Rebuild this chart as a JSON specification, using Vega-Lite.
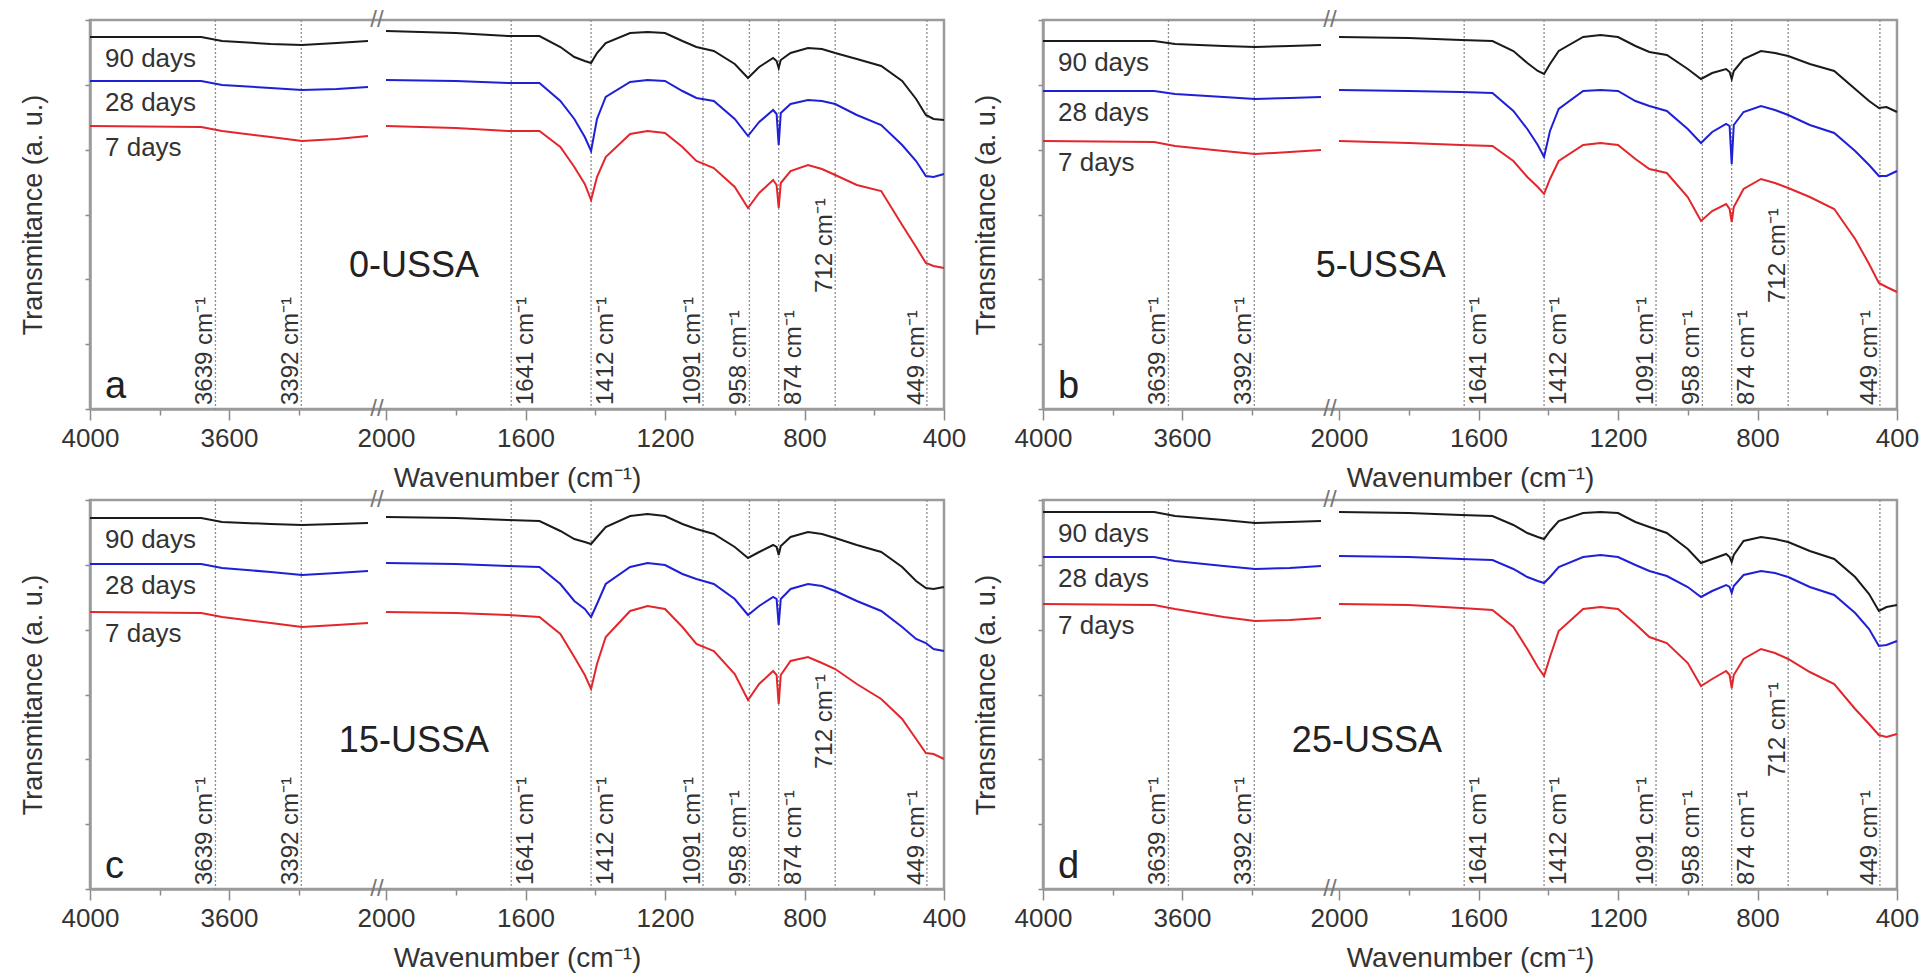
{
"$schema": "https://vega.github.io/schema/vega-lite/v6.json",
"padding": {"left": 18, "top": 6, "right": 5, "bottom": 5},
"background": "white",
"data": {"values": [
{"p":"a","s":"90 days","g":"L","x":4000,"y":372},{"p":"a","s":"90 days","g":"L","x":3680,"y":372},{"p":"a","s":"90 days","g":"L","x":3620,"y":368},{"p":"a","s":"90 days","g":"L","x":3480,"y":365},{"p":"a","s":"90 days","g":"L","x":3390,"y":364},{"p":"a","s":"90 days","g":"L","x":3290,"y":366},{"p":"a","s":"90 days","g":"L","x":3200,"y":368},
{"p":"a","s":"90 days","g":"R","x":2000,"y":378},{"p":"a","s":"90 days","g":"R","x":1800,"y":376},{"p":"a","s":"90 days","g":"R","x":1650,"y":373},{"p":"a","s":"90 days","g":"R","x":1560,"y":373},{"p":"a","s":"90 days","g":"R","x":1500,"y":362},{"p":"a","s":"90 days","g":"R","x":1460,"y":352},{"p":"a","s":"90 days","g":"R","x":1430,"y":348},{"p":"a","s":"90 days","g":"R","x":1412,"y":346},{"p":"a","s":"90 days","g":"R","x":1395,"y":356},{"p":"a","s":"90 days","g":"R","x":1370,"y":366},{"p":"a","s":"90 days","g":"R","x":1300,"y":376},{"p":"a","s":"90 days","g":"R","x":1250,"y":377},{"p":"a","s":"90 days","g":"R","x":1200,"y":376},{"p":"a","s":"90 days","g":"R","x":1150,"y":368},{"p":"a","s":"90 days","g":"R","x":1110,"y":362},{"p":"a","s":"90 days","g":"R","x":1060,"y":358},{"p":"a","s":"90 days","g":"R","x":1000,"y":345},{"p":"a","s":"90 days","g":"R","x":962,"y":331},{"p":"a","s":"90 days","g":"R","x":930,"y":342},{"p":"a","s":"90 days","g":"R","x":890,"y":351},{"p":"a","s":"90 days","g":"R","x":880,"y":348},{"p":"a","s":"90 days","g":"R","x":874,"y":341},{"p":"a","s":"90 days","g":"R","x":868,"y":349},{"p":"a","s":"90 days","g":"R","x":840,"y":356},{"p":"a","s":"90 days","g":"R","x":790,"y":361},{"p":"a","s":"90 days","g":"R","x":750,"y":360},{"p":"a","s":"90 days","g":"R","x":712,"y":356},{"p":"a","s":"90 days","g":"R","x":650,"y":350},{"p":"a","s":"90 days","g":"R","x":580,"y":343},{"p":"a","s":"90 days","g":"R","x":520,"y":328},{"p":"a","s":"90 days","g":"R","x":480,"y":310},{"p":"a","s":"90 days","g":"R","x":452,"y":294},{"p":"a","s":"90 days","g":"R","x":430,"y":290},{"p":"a","s":"90 days","g":"R","x":400,"y":289},
{"p":"a","s":"28 days","g":"L","x":4000,"y":328},{"p":"a","s":"28 days","g":"L","x":3680,"y":328},{"p":"a","s":"28 days","g":"L","x":3620,"y":324},{"p":"a","s":"28 days","g":"L","x":3480,"y":321},{"p":"a","s":"28 days","g":"L","x":3390,"y":319},{"p":"a","s":"28 days","g":"L","x":3290,"y":320},{"p":"a","s":"28 days","g":"L","x":3200,"y":322},
{"p":"a","s":"28 days","g":"R","x":2000,"y":329},{"p":"a","s":"28 days","g":"R","x":1800,"y":328},{"p":"a","s":"28 days","g":"R","x":1650,"y":326},{"p":"a","s":"28 days","g":"R","x":1560,"y":326},{"p":"a","s":"28 days","g":"R","x":1500,"y":308},{"p":"a","s":"28 days","g":"R","x":1460,"y":290},{"p":"a","s":"28 days","g":"R","x":1430,"y":272},{"p":"a","s":"28 days","g":"R","x":1412,"y":258},{"p":"a","s":"28 days","g":"R","x":1395,"y":290},{"p":"a","s":"28 days","g":"R","x":1370,"y":312},{"p":"a","s":"28 days","g":"R","x":1300,"y":327},{"p":"a","s":"28 days","g":"R","x":1250,"y":329},{"p":"a","s":"28 days","g":"R","x":1200,"y":328},{"p":"a","s":"28 days","g":"R","x":1150,"y":318},{"p":"a","s":"28 days","g":"R","x":1110,"y":311},{"p":"a","s":"28 days","g":"R","x":1060,"y":308},{"p":"a","s":"28 days","g":"R","x":1000,"y":290},{"p":"a","s":"28 days","g":"R","x":962,"y":273},{"p":"a","s":"28 days","g":"R","x":930,"y":287},{"p":"a","s":"28 days","g":"R","x":890,"y":299},{"p":"a","s":"28 days","g":"R","x":880,"y":295},{"p":"a","s":"28 days","g":"R","x":874,"y":264},{"p":"a","s":"28 days","g":"R","x":868,"y":296},{"p":"a","s":"28 days","g":"R","x":840,"y":305},{"p":"a","s":"28 days","g":"R","x":790,"y":309},{"p":"a","s":"28 days","g":"R","x":750,"y":308},{"p":"a","s":"28 days","g":"R","x":712,"y":305},{"p":"a","s":"28 days","g":"R","x":650,"y":294},{"p":"a","s":"28 days","g":"R","x":580,"y":284},{"p":"a","s":"28 days","g":"R","x":520,"y":264},{"p":"a","s":"28 days","g":"R","x":480,"y":248},{"p":"a","s":"28 days","g":"R","x":452,"y":233},{"p":"a","s":"28 days","g":"R","x":430,"y":232},{"p":"a","s":"28 days","g":"R","x":400,"y":235},
{"p":"a","s":"7 days","g":"L","x":4000,"y":283},{"p":"a","s":"7 days","g":"L","x":3680,"y":282},{"p":"a","s":"7 days","g":"L","x":3620,"y":278},{"p":"a","s":"7 days","g":"L","x":3480,"y":272},{"p":"a","s":"7 days","g":"L","x":3390,"y":268},{"p":"a","s":"7 days","g":"L","x":3290,"y":270},{"p":"a","s":"7 days","g":"L","x":3200,"y":273},
{"p":"a","s":"7 days","g":"R","x":2000,"y":283},{"p":"a","s":"7 days","g":"R","x":1800,"y":281},{"p":"a","s":"7 days","g":"R","x":1650,"y":278},{"p":"a","s":"7 days","g":"R","x":1560,"y":278},{"p":"a","s":"7 days","g":"R","x":1500,"y":262},{"p":"a","s":"7 days","g":"R","x":1460,"y":242},{"p":"a","s":"7 days","g":"R","x":1430,"y":225},{"p":"a","s":"7 days","g":"R","x":1412,"y":209},{"p":"a","s":"7 days","g":"R","x":1395,"y":232},{"p":"a","s":"7 days","g":"R","x":1370,"y":252},{"p":"a","s":"7 days","g":"R","x":1300,"y":275},{"p":"a","s":"7 days","g":"R","x":1250,"y":278},{"p":"a","s":"7 days","g":"R","x":1200,"y":276},{"p":"a","s":"7 days","g":"R","x":1150,"y":262},{"p":"a","s":"7 days","g":"R","x":1110,"y":248},{"p":"a","s":"7 days","g":"R","x":1060,"y":241},{"p":"a","s":"7 days","g":"R","x":1000,"y":222},{"p":"a","s":"7 days","g":"R","x":962,"y":201},{"p":"a","s":"7 days","g":"R","x":930,"y":216},{"p":"a","s":"7 days","g":"R","x":890,"y":229},{"p":"a","s":"7 days","g":"R","x":880,"y":224},{"p":"a","s":"7 days","g":"R","x":874,"y":201},{"p":"a","s":"7 days","g":"R","x":868,"y":226},{"p":"a","s":"7 days","g":"R","x":840,"y":238},{"p":"a","s":"7 days","g":"R","x":790,"y":244},{"p":"a","s":"7 days","g":"R","x":750,"y":240},{"p":"a","s":"7 days","g":"R","x":712,"y":234},{"p":"a","s":"7 days","g":"R","x":650,"y":224},{"p":"a","s":"7 days","g":"R","x":580,"y":218},{"p":"a","s":"7 days","g":"R","x":520,"y":184},{"p":"a","s":"7 days","g":"R","x":480,"y":162},{"p":"a","s":"7 days","g":"R","x":452,"y":146},{"p":"a","s":"7 days","g":"R","x":430,"y":143},{"p":"a","s":"7 days","g":"R","x":400,"y":141},

{"p":"b","s":"90 days","g":"L","x":4000,"y":368},{"p":"b","s":"90 days","g":"L","x":3680,"y":368},{"p":"b","s":"90 days","g":"L","x":3620,"y":365},{"p":"b","s":"90 days","g":"L","x":3480,"y":363},{"p":"b","s":"90 days","g":"L","x":3390,"y":362},{"p":"b","s":"90 days","g":"L","x":3290,"y":363},{"p":"b","s":"90 days","g":"L","x":3200,"y":364},
{"p":"b","s":"90 days","g":"R","x":2000,"y":372},{"p":"b","s":"90 days","g":"R","x":1800,"y":371},{"p":"b","s":"90 days","g":"R","x":1650,"y":369},{"p":"b","s":"90 days","g":"R","x":1560,"y":368},{"p":"b","s":"90 days","g":"R","x":1500,"y":358},{"p":"b","s":"90 days","g":"R","x":1460,"y":346},{"p":"b","s":"90 days","g":"R","x":1430,"y":338},{"p":"b","s":"90 days","g":"R","x":1412,"y":335},{"p":"b","s":"90 days","g":"R","x":1395,"y":345},{"p":"b","s":"90 days","g":"R","x":1370,"y":358},{"p":"b","s":"90 days","g":"R","x":1300,"y":372},{"p":"b","s":"90 days","g":"R","x":1250,"y":374},{"p":"b","s":"90 days","g":"R","x":1200,"y":372},{"p":"b","s":"90 days","g":"R","x":1150,"y":363},{"p":"b","s":"90 days","g":"R","x":1110,"y":357},{"p":"b","s":"90 days","g":"R","x":1060,"y":354},{"p":"b","s":"90 days","g":"R","x":1000,"y":340},{"p":"b","s":"90 days","g":"R","x":962,"y":330},{"p":"b","s":"90 days","g":"R","x":930,"y":336},{"p":"b","s":"90 days","g":"R","x":890,"y":340},{"p":"b","s":"90 days","g":"R","x":880,"y":337},{"p":"b","s":"90 days","g":"R","x":874,"y":330},{"p":"b","s":"90 days","g":"R","x":868,"y":338},{"p":"b","s":"90 days","g":"R","x":840,"y":350},{"p":"b","s":"90 days","g":"R","x":790,"y":358},{"p":"b","s":"90 days","g":"R","x":750,"y":356},{"p":"b","s":"90 days","g":"R","x":712,"y":353},{"p":"b","s":"90 days","g":"R","x":650,"y":345},{"p":"b","s":"90 days","g":"R","x":580,"y":338},{"p":"b","s":"90 days","g":"R","x":520,"y":320},{"p":"b","s":"90 days","g":"R","x":480,"y":308},{"p":"b","s":"90 days","g":"R","x":452,"y":301},{"p":"b","s":"90 days","g":"R","x":430,"y":302},{"p":"b","s":"90 days","g":"R","x":400,"y":297},
{"p":"b","s":"28 days","g":"L","x":4000,"y":318},{"p":"b","s":"28 days","g":"L","x":3680,"y":318},{"p":"b","s":"28 days","g":"L","x":3620,"y":315},{"p":"b","s":"28 days","g":"L","x":3480,"y":312},{"p":"b","s":"28 days","g":"L","x":3390,"y":310},{"p":"b","s":"28 days","g":"L","x":3290,"y":311},{"p":"b","s":"28 days","g":"L","x":3200,"y":312},
{"p":"b","s":"28 days","g":"R","x":2000,"y":319},{"p":"b","s":"28 days","g":"R","x":1800,"y":318},{"p":"b","s":"28 days","g":"R","x":1650,"y":317},{"p":"b","s":"28 days","g":"R","x":1560,"y":316},{"p":"b","s":"28 days","g":"R","x":1500,"y":298},{"p":"b","s":"28 days","g":"R","x":1460,"y":280},{"p":"b","s":"28 days","g":"R","x":1430,"y":264},{"p":"b","s":"28 days","g":"R","x":1412,"y":252},{"p":"b","s":"28 days","g":"R","x":1395,"y":278},{"p":"b","s":"28 days","g":"R","x":1370,"y":300},{"p":"b","s":"28 days","g":"R","x":1300,"y":318},{"p":"b","s":"28 days","g":"R","x":1250,"y":319},{"p":"b","s":"28 days","g":"R","x":1200,"y":318},{"p":"b","s":"28 days","g":"R","x":1150,"y":308},{"p":"b","s":"28 days","g":"R","x":1110,"y":303},{"p":"b","s":"28 days","g":"R","x":1060,"y":298},{"p":"b","s":"28 days","g":"R","x":1000,"y":280},{"p":"b","s":"28 days","g":"R","x":962,"y":266},{"p":"b","s":"28 days","g":"R","x":930,"y":277},{"p":"b","s":"28 days","g":"R","x":890,"y":285},{"p":"b","s":"28 days","g":"R","x":880,"y":283},{"p":"b","s":"28 days","g":"R","x":874,"y":245},{"p":"b","s":"28 days","g":"R","x":868,"y":284},{"p":"b","s":"28 days","g":"R","x":840,"y":297},{"p":"b","s":"28 days","g":"R","x":790,"y":303},{"p":"b","s":"28 days","g":"R","x":750,"y":299},{"p":"b","s":"28 days","g":"R","x":712,"y":294},{"p":"b","s":"28 days","g":"R","x":650,"y":284},{"p":"b","s":"28 days","g":"R","x":580,"y":276},{"p":"b","s":"28 days","g":"R","x":520,"y":258},{"p":"b","s":"28 days","g":"R","x":480,"y":244},{"p":"b","s":"28 days","g":"R","x":452,"y":233},{"p":"b","s":"28 days","g":"R","x":430,"y":233},{"p":"b","s":"28 days","g":"R","x":400,"y":238},
{"p":"b","s":"7 days","g":"L","x":4000,"y":268},{"p":"b","s":"7 days","g":"L","x":3680,"y":267},{"p":"b","s":"7 days","g":"L","x":3620,"y":263},{"p":"b","s":"7 days","g":"L","x":3480,"y":258},{"p":"b","s":"7 days","g":"L","x":3390,"y":255},{"p":"b","s":"7 days","g":"L","x":3290,"y":257},{"p":"b","s":"7 days","g":"L","x":3200,"y":259},
{"p":"b","s":"7 days","g":"R","x":2000,"y":268},{"p":"b","s":"7 days","g":"R","x":1800,"y":266},{"p":"b","s":"7 days","g":"R","x":1650,"y":264},{"p":"b","s":"7 days","g":"R","x":1560,"y":263},{"p":"b","s":"7 days","g":"R","x":1500,"y":248},{"p":"b","s":"7 days","g":"R","x":1460,"y":232},{"p":"b","s":"7 days","g":"R","x":1430,"y":222},{"p":"b","s":"7 days","g":"R","x":1412,"y":215},{"p":"b","s":"7 days","g":"R","x":1395,"y":230},{"p":"b","s":"7 days","g":"R","x":1370,"y":248},{"p":"b","s":"7 days","g":"R","x":1300,"y":264},{"p":"b","s":"7 days","g":"R","x":1250,"y":266},{"p":"b","s":"7 days","g":"R","x":1200,"y":264},{"p":"b","s":"7 days","g":"R","x":1150,"y":250},{"p":"b","s":"7 days","g":"R","x":1110,"y":240},{"p":"b","s":"7 days","g":"R","x":1060,"y":236},{"p":"b","s":"7 days","g":"R","x":1000,"y":212},{"p":"b","s":"7 days","g":"R","x":962,"y":188},{"p":"b","s":"7 days","g":"R","x":930,"y":198},{"p":"b","s":"7 days","g":"R","x":890,"y":205},{"p":"b","s":"7 days","g":"R","x":880,"y":200},{"p":"b","s":"7 days","g":"R","x":874,"y":187},{"p":"b","s":"7 days","g":"R","x":868,"y":202},{"p":"b","s":"7 days","g":"R","x":840,"y":220},{"p":"b","s":"7 days","g":"R","x":790,"y":230},{"p":"b","s":"7 days","g":"R","x":750,"y":226},{"p":"b","s":"7 days","g":"R","x":712,"y":221},{"p":"b","s":"7 days","g":"R","x":650,"y":212},{"p":"b","s":"7 days","g":"R","x":580,"y":200},{"p":"b","s":"7 days","g":"R","x":520,"y":170},{"p":"b","s":"7 days","g":"R","x":480,"y":145},{"p":"b","s":"7 days","g":"R","x":452,"y":126},{"p":"b","s":"7 days","g":"R","x":430,"y":122},{"p":"b","s":"7 days","g":"R","x":400,"y":117},

{"p":"c","s":"90 days","g":"L","x":4000,"y":371},{"p":"c","s":"90 days","g":"L","x":3680,"y":371},{"p":"c","s":"90 days","g":"L","x":3620,"y":367},{"p":"c","s":"90 days","g":"L","x":3480,"y":365},{"p":"c","s":"90 days","g":"L","x":3390,"y":364},{"p":"c","s":"90 days","g":"L","x":3290,"y":365},{"p":"c","s":"90 days","g":"L","x":3200,"y":366},
{"p":"c","s":"90 days","g":"R","x":2000,"y":372},{"p":"c","s":"90 days","g":"R","x":1800,"y":371},{"p":"c","s":"90 days","g":"R","x":1650,"y":369},{"p":"c","s":"90 days","g":"R","x":1560,"y":368},{"p":"c","s":"90 days","g":"R","x":1500,"y":358},{"p":"c","s":"90 days","g":"R","x":1460,"y":350},{"p":"c","s":"90 days","g":"R","x":1430,"y":347},{"p":"c","s":"90 days","g":"R","x":1412,"y":345},{"p":"c","s":"90 days","g":"R","x":1395,"y":352},{"p":"c","s":"90 days","g":"R","x":1370,"y":362},{"p":"c","s":"90 days","g":"R","x":1300,"y":373},{"p":"c","s":"90 days","g":"R","x":1250,"y":375},{"p":"c","s":"90 days","g":"R","x":1200,"y":373},{"p":"c","s":"90 days","g":"R","x":1150,"y":365},{"p":"c","s":"90 days","g":"R","x":1110,"y":360},{"p":"c","s":"90 days","g":"R","x":1060,"y":355},{"p":"c","s":"90 days","g":"R","x":1000,"y":342},{"p":"c","s":"90 days","g":"R","x":962,"y":331},{"p":"c","s":"90 days","g":"R","x":930,"y":337},{"p":"c","s":"90 days","g":"R","x":890,"y":344},{"p":"c","s":"90 days","g":"R","x":880,"y":342},{"p":"c","s":"90 days","g":"R","x":874,"y":334},{"p":"c","s":"90 days","g":"R","x":868,"y":343},{"p":"c","s":"90 days","g":"R","x":840,"y":352},{"p":"c","s":"90 days","g":"R","x":790,"y":357},{"p":"c","s":"90 days","g":"R","x":750,"y":355},{"p":"c","s":"90 days","g":"R","x":712,"y":351},{"p":"c","s":"90 days","g":"R","x":650,"y":344},{"p":"c","s":"90 days","g":"R","x":580,"y":337},{"p":"c","s":"90 days","g":"R","x":520,"y":322},{"p":"c","s":"90 days","g":"R","x":480,"y":308},{"p":"c","s":"90 days","g":"R","x":452,"y":301},{"p":"c","s":"90 days","g":"R","x":430,"y":300},{"p":"c","s":"90 days","g":"R","x":400,"y":302},
{"p":"c","s":"28 days","g":"L","x":4000,"y":325},{"p":"c","s":"28 days","g":"L","x":3680,"y":325},{"p":"c","s":"28 days","g":"L","x":3620,"y":321},{"p":"c","s":"28 days","g":"L","x":3480,"y":317},{"p":"c","s":"28 days","g":"L","x":3390,"y":314},{"p":"c","s":"28 days","g":"L","x":3290,"y":316},{"p":"c","s":"28 days","g":"L","x":3200,"y":318},
{"p":"c","s":"28 days","g":"R","x":2000,"y":326},{"p":"c","s":"28 days","g":"R","x":1800,"y":325},{"p":"c","s":"28 days","g":"R","x":1650,"y":323},{"p":"c","s":"28 days","g":"R","x":1560,"y":322},{"p":"c","s":"28 days","g":"R","x":1500,"y":305},{"p":"c","s":"28 days","g":"R","x":1460,"y":288},{"p":"c","s":"28 days","g":"R","x":1430,"y":280},{"p":"c","s":"28 days","g":"R","x":1412,"y":272},{"p":"c","s":"28 days","g":"R","x":1395,"y":285},{"p":"c","s":"28 days","g":"R","x":1370,"y":305},{"p":"c","s":"28 days","g":"R","x":1300,"y":322},{"p":"c","s":"28 days","g":"R","x":1250,"y":326},{"p":"c","s":"28 days","g":"R","x":1200,"y":324},{"p":"c","s":"28 days","g":"R","x":1150,"y":315},{"p":"c","s":"28 days","g":"R","x":1110,"y":310},{"p":"c","s":"28 days","g":"R","x":1060,"y":305},{"p":"c","s":"28 days","g":"R","x":1000,"y":290},{"p":"c","s":"28 days","g":"R","x":962,"y":274},{"p":"c","s":"28 days","g":"R","x":930,"y":283},{"p":"c","s":"28 days","g":"R","x":890,"y":292},{"p":"c","s":"28 days","g":"R","x":880,"y":290},{"p":"c","s":"28 days","g":"R","x":874,"y":264},{"p":"c","s":"28 days","g":"R","x":868,"y":290},{"p":"c","s":"28 days","g":"R","x":840,"y":300},{"p":"c","s":"28 days","g":"R","x":790,"y":305},{"p":"c","s":"28 days","g":"R","x":750,"y":303},{"p":"c","s":"28 days","g":"R","x":712,"y":298},{"p":"c","s":"28 days","g":"R","x":650,"y":288},{"p":"c","s":"28 days","g":"R","x":580,"y":278},{"p":"c","s":"28 days","g":"R","x":520,"y":262},{"p":"c","s":"28 days","g":"R","x":480,"y":250},{"p":"c","s":"28 days","g":"R","x":452,"y":246},{"p":"c","s":"28 days","g":"R","x":430,"y":240},{"p":"c","s":"28 days","g":"R","x":400,"y":238},
{"p":"c","s":"7 days","g":"L","x":4000,"y":277},{"p":"c","s":"7 days","g":"L","x":3680,"y":276},{"p":"c","s":"7 days","g":"L","x":3620,"y":272},{"p":"c","s":"7 days","g":"L","x":3480,"y":266},{"p":"c","s":"7 days","g":"L","x":3390,"y":262},{"p":"c","s":"7 days","g":"L","x":3290,"y":264},{"p":"c","s":"7 days","g":"L","x":3200,"y":266},
{"p":"c","s":"7 days","g":"R","x":2000,"y":277},{"p":"c","s":"7 days","g":"R","x":1800,"y":276},{"p":"c","s":"7 days","g":"R","x":1650,"y":274},{"p":"c","s":"7 days","g":"R","x":1560,"y":272},{"p":"c","s":"7 days","g":"R","x":1500,"y":255},{"p":"c","s":"7 days","g":"R","x":1460,"y":232},{"p":"c","s":"7 days","g":"R","x":1430,"y":214},{"p":"c","s":"7 days","g":"R","x":1412,"y":200},{"p":"c","s":"7 days","g":"R","x":1395,"y":225},{"p":"c","s":"7 days","g":"R","x":1370,"y":252},{"p":"c","s":"7 days","g":"R","x":1300,"y":278},{"p":"c","s":"7 days","g":"R","x":1250,"y":283},{"p":"c","s":"7 days","g":"R","x":1200,"y":280},{"p":"c","s":"7 days","g":"R","x":1150,"y":262},{"p":"c","s":"7 days","g":"R","x":1110,"y":245},{"p":"c","s":"7 days","g":"R","x":1060,"y":238},{"p":"c","s":"7 days","g":"R","x":1000,"y":215},{"p":"c","s":"7 days","g":"R","x":962,"y":189},{"p":"c","s":"7 days","g":"R","x":930,"y":205},{"p":"c","s":"7 days","g":"R","x":890,"y":218},{"p":"c","s":"7 days","g":"R","x":880,"y":214},{"p":"c","s":"7 days","g":"R","x":874,"y":185},{"p":"c","s":"7 days","g":"R","x":868,"y":214},{"p":"c","s":"7 days","g":"R","x":840,"y":228},{"p":"c","s":"7 days","g":"R","x":790,"y":232},{"p":"c","s":"7 days","g":"R","x":750,"y":226},{"p":"c","s":"7 days","g":"R","x":712,"y":220},{"p":"c","s":"7 days","g":"R","x":650,"y":205},{"p":"c","s":"7 days","g":"R","x":580,"y":190},{"p":"c","s":"7 days","g":"R","x":520,"y":170},{"p":"c","s":"7 days","g":"R","x":480,"y":150},{"p":"c","s":"7 days","g":"R","x":452,"y":136},{"p":"c","s":"7 days","g":"R","x":430,"y":135},{"p":"c","s":"7 days","g":"R","x":400,"y":130},

{"p":"d","s":"90 days","g":"L","x":4000,"y":377},{"p":"d","s":"90 days","g":"L","x":3680,"y":377},{"p":"d","s":"90 days","g":"L","x":3620,"y":373},{"p":"d","s":"90 days","g":"L","x":3480,"y":369},{"p":"d","s":"90 days","g":"L","x":3390,"y":366},{"p":"d","s":"90 days","g":"L","x":3290,"y":367},{"p":"d","s":"90 days","g":"L","x":3200,"y":368},
{"p":"d","s":"90 days","g":"R","x":2000,"y":377},{"p":"d","s":"90 days","g":"R","x":1800,"y":376},{"p":"d","s":"90 days","g":"R","x":1650,"y":374},{"p":"d","s":"90 days","g":"R","x":1560,"y":373},{"p":"d","s":"90 days","g":"R","x":1500,"y":364},{"p":"d","s":"90 days","g":"R","x":1460,"y":356},{"p":"d","s":"90 days","g":"R","x":1430,"y":352},{"p":"d","s":"90 days","g":"R","x":1412,"y":350},{"p":"d","s":"90 days","g":"R","x":1395,"y":358},{"p":"d","s":"90 days","g":"R","x":1370,"y":368},{"p":"d","s":"90 days","g":"R","x":1300,"y":376},{"p":"d","s":"90 days","g":"R","x":1250,"y":377},{"p":"d","s":"90 days","g":"R","x":1200,"y":376},{"p":"d","s":"90 days","g":"R","x":1150,"y":367},{"p":"d","s":"90 days","g":"R","x":1110,"y":362},{"p":"d","s":"90 days","g":"R","x":1060,"y":356},{"p":"d","s":"90 days","g":"R","x":1000,"y":340},{"p":"d","s":"90 days","g":"R","x":962,"y":326},{"p":"d","s":"90 days","g":"R","x":930,"y":330},{"p":"d","s":"90 days","g":"R","x":890,"y":335},{"p":"d","s":"90 days","g":"R","x":880,"y":332},{"p":"d","s":"90 days","g":"R","x":874,"y":327},{"p":"d","s":"90 days","g":"R","x":868,"y":334},{"p":"d","s":"90 days","g":"R","x":840,"y":348},{"p":"d","s":"90 days","g":"R","x":790,"y":352},{"p":"d","s":"90 days","g":"R","x":750,"y":350},{"p":"d","s":"90 days","g":"R","x":712,"y":347},{"p":"d","s":"90 days","g":"R","x":650,"y":338},{"p":"d","s":"90 days","g":"R","x":580,"y":330},{"p":"d","s":"90 days","g":"R","x":520,"y":312},{"p":"d","s":"90 days","g":"R","x":480,"y":295},{"p":"d","s":"90 days","g":"R","x":452,"y":278},{"p":"d","s":"90 days","g":"R","x":430,"y":282},{"p":"d","s":"90 days","g":"R","x":400,"y":284},
{"p":"d","s":"28 days","g":"L","x":4000,"y":332},{"p":"d","s":"28 days","g":"L","x":3680,"y":332},{"p":"d","s":"28 days","g":"L","x":3620,"y":328},{"p":"d","s":"28 days","g":"L","x":3480,"y":323},{"p":"d","s":"28 days","g":"L","x":3390,"y":320},{"p":"d","s":"28 days","g":"L","x":3290,"y":321},{"p":"d","s":"28 days","g":"L","x":3200,"y":323},
{"p":"d","s":"28 days","g":"R","x":2000,"y":333},{"p":"d","s":"28 days","g":"R","x":1800,"y":332},{"p":"d","s":"28 days","g":"R","x":1650,"y":330},{"p":"d","s":"28 days","g":"R","x":1560,"y":329},{"p":"d","s":"28 days","g":"R","x":1500,"y":320},{"p":"d","s":"28 days","g":"R","x":1460,"y":312},{"p":"d","s":"28 days","g":"R","x":1430,"y":308},{"p":"d","s":"28 days","g":"R","x":1412,"y":306},{"p":"d","s":"28 days","g":"R","x":1395,"y":312},{"p":"d","s":"28 days","g":"R","x":1370,"y":322},{"p":"d","s":"28 days","g":"R","x":1300,"y":332},{"p":"d","s":"28 days","g":"R","x":1250,"y":334},{"p":"d","s":"28 days","g":"R","x":1200,"y":332},{"p":"d","s":"28 days","g":"R","x":1150,"y":324},{"p":"d","s":"28 days","g":"R","x":1110,"y":318},{"p":"d","s":"28 days","g":"R","x":1060,"y":313},{"p":"d","s":"28 days","g":"R","x":1000,"y":302},{"p":"d","s":"28 days","g":"R","x":962,"y":292},{"p":"d","s":"28 days","g":"R","x":930,"y":298},{"p":"d","s":"28 days","g":"R","x":890,"y":304},{"p":"d","s":"28 days","g":"R","x":880,"y":302},{"p":"d","s":"28 days","g":"R","x":874,"y":296},{"p":"d","s":"28 days","g":"R","x":868,"y":303},{"p":"d","s":"28 days","g":"R","x":840,"y":314},{"p":"d","s":"28 days","g":"R","x":790,"y":318},{"p":"d","s":"28 days","g":"R","x":750,"y":316},{"p":"d","s":"28 days","g":"R","x":712,"y":312},{"p":"d","s":"28 days","g":"R","x":650,"y":302},{"p":"d","s":"28 days","g":"R","x":580,"y":294},{"p":"d","s":"28 days","g":"R","x":520,"y":276},{"p":"d","s":"28 days","g":"R","x":480,"y":260},{"p":"d","s":"28 days","g":"R","x":452,"y":243},{"p":"d","s":"28 days","g":"R","x":430,"y":244},{"p":"d","s":"28 days","g":"R","x":400,"y":248},
{"p":"d","s":"7 days","g":"L","x":4000,"y":285},{"p":"d","s":"7 days","g":"L","x":3680,"y":284},{"p":"d","s":"7 days","g":"L","x":3620,"y":280},{"p":"d","s":"7 days","g":"L","x":3480,"y":272},{"p":"d","s":"7 days","g":"L","x":3390,"y":268},{"p":"d","s":"7 days","g":"L","x":3290,"y":269},{"p":"d","s":"7 days","g":"L","x":3200,"y":271},
{"p":"d","s":"7 days","g":"R","x":2000,"y":285},{"p":"d","s":"7 days","g":"R","x":1800,"y":284},{"p":"d","s":"7 days","g":"R","x":1650,"y":281},{"p":"d","s":"7 days","g":"R","x":1560,"y":279},{"p":"d","s":"7 days","g":"R","x":1500,"y":262},{"p":"d","s":"7 days","g":"R","x":1460,"y":240},{"p":"d","s":"7 days","g":"R","x":1430,"y":222},{"p":"d","s":"7 days","g":"R","x":1412,"y":213},{"p":"d","s":"7 days","g":"R","x":1395,"y":232},{"p":"d","s":"7 days","g":"R","x":1370,"y":258},{"p":"d","s":"7 days","g":"R","x":1300,"y":280},{"p":"d","s":"7 days","g":"R","x":1250,"y":282},{"p":"d","s":"7 days","g":"R","x":1200,"y":280},{"p":"d","s":"7 days","g":"R","x":1150,"y":265},{"p":"d","s":"7 days","g":"R","x":1110,"y":252},{"p":"d","s":"7 days","g":"R","x":1060,"y":246},{"p":"d","s":"7 days","g":"R","x":1000,"y":226},{"p":"d","s":"7 days","g":"R","x":962,"y":203},{"p":"d","s":"7 days","g":"R","x":930,"y":210},{"p":"d","s":"7 days","g":"R","x":890,"y":218},{"p":"d","s":"7 days","g":"R","x":880,"y":214},{"p":"d","s":"7 days","g":"R","x":874,"y":201},{"p":"d","s":"7 days","g":"R","x":868,"y":214},{"p":"d","s":"7 days","g":"R","x":840,"y":230},{"p":"d","s":"7 days","g":"R","x":790,"y":240},{"p":"d","s":"7 days","g":"R","x":750,"y":236},{"p":"d","s":"7 days","g":"R","x":712,"y":230},{"p":"d","s":"7 days","g":"R","x":650,"y":217},{"p":"d","s":"7 days","g":"R","x":580,"y":205},{"p":"d","s":"7 days","g":"R","x":520,"y":180},{"p":"d","s":"7 days","g":"R","x":480,"y":165},{"p":"d","s":"7 days","g":"R","x":452,"y":154},{"p":"d","s":"7 days","g":"R","x":430,"y":152},{"p":"d","s":"7 days","g":"R","x":400,"y":155},

{"p":"a","x":3639,"lab":"3639 cm⁻¹"},{"p":"a","x":3392,"lab":"3392 cm⁻¹"},{"p":"a","x":1641,"lab":"1641 cm⁻¹"},{"p":"a","x":1412,"lab":"1412 cm⁻¹"},{"p":"a","x":1091,"lab":"1091 cm⁻¹"},{"p":"a","x":958,"lab":"958 cm⁻¹"},{"p":"a","x":874,"lab":"874 cm⁻¹"},{"p":"a","x":712,"lab":"712 cm⁻¹"},{"p":"a","x":449,"lab":"449 cm⁻¹"},
{"p":"b","x":3639,"lab":"3639 cm⁻¹"},{"p":"b","x":3392,"lab":"3392 cm⁻¹"},{"p":"b","x":1641,"lab":"1641 cm⁻¹"},{"p":"b","x":1412,"lab":"1412 cm⁻¹"},{"p":"b","x":1091,"lab":"1091 cm⁻¹"},{"p":"b","x":958,"lab":"958 cm⁻¹"},{"p":"b","x":874,"lab":"874 cm⁻¹"},{"p":"b","x":712,"lab":"712 cm⁻¹"},{"p":"b","x":449,"lab":"449 cm⁻¹"},
{"p":"c","x":3639,"lab":"3639 cm⁻¹"},{"p":"c","x":3392,"lab":"3392 cm⁻¹"},{"p":"c","x":1641,"lab":"1641 cm⁻¹"},{"p":"c","x":1412,"lab":"1412 cm⁻¹"},{"p":"c","x":1091,"lab":"1091 cm⁻¹"},{"p":"c","x":958,"lab":"958 cm⁻¹"},{"p":"c","x":874,"lab":"874 cm⁻¹"},{"p":"c","x":712,"lab":"712 cm⁻¹"},{"p":"c","x":449,"lab":"449 cm⁻¹"},
{"p":"d","x":3639,"lab":"3639 cm⁻¹"},{"p":"d","x":3392,"lab":"3392 cm⁻¹"},{"p":"d","x":1641,"lab":"1641 cm⁻¹"},{"p":"d","x":1412,"lab":"1412 cm⁻¹"},{"p":"d","x":1091,"lab":"1091 cm⁻¹"},{"p":"d","x":958,"lab":"958 cm⁻¹"},{"p":"d","x":874,"lab":"874 cm⁻¹"},{"p":"d","x":712,"lab":"712 cm⁻¹"},{"p":"d","x":449,"lab":"449 cm⁻¹"},
{"p":"a","letter":"a","name":"0-USSA"},{"p":"b","letter":"b","name":"5-USSA"},{"p":"c","letter":"c","name":"15-USSA"},{"p":"d","letter":"d","name":"25-USSA"}
]},
"columns": 2,
"bounds": "flush",
"spacing": {"row": 91, "column": 99},
"concat": [
{"width": 854, "height": 389, "transform": [{"filter": "datum.p == 'a'"}],
 "layer": [
    {"transform": [{"filter": "isValid(datum.lab)"}], "mark": {"type": "rule", "color": "#8c8c8c", "strokeWidth": 1.3, "strokeDash": [2, 2]}, "encoding": {"x": {"field": "x", "type": "quantitative"}}},
    {"transform": [{"filter": "isValid(datum.s)"}], "mark": {"type": "line", "strokeWidth": 2},
     "encoding": {
       "x": {"field": "x", "type": "quantitative", "scale": {"domain": [4000, 3200, 2000, 400], "range": [0, 278, 296, 854], "nice": false, "zero": false},
         "axis": {"title": "Wavenumber (cm⁻¹)", "titleFontSize": 28, "values": [4000, 3800, 3600, 3400, 2000, 1800, 1600, 1400, 1200, 1000, 800, 600, 400], "format": "d", "labelExpr": "datum.value % 400 == 0 ? datum.label : ''", "tickSize": {"condition": {"test": "datum.value % 400 == 0", "value": 11}, "value": 6}, "labelPadding": 5, "titlePadding": 13, "labelOverlap": false, "labelFlush": false}},
       "y": {"field": "y", "type": "quantitative", "scale": {"domain": [0, 389], "nice": false, "zero": false},
         "axis": {"title": "Transmitance (a. u.)", "titleFontSize": 27, "labels": false, "values": [0,16.2,32.4,48.6,64.8,81,97.2,113.4,129.6,145.8,162,178.2,194.4,210.6,226.8,243,259.2,275.4,291.6,307.8,324,340.2,356.4,372.6,388.8], "tickSize": {"condition": {"test": "round(datum.value/16.2) % 2 == 1", "value": 10}, "value": 5}, "titlePadding": 37}},
       "color": {"field": "s", "type": "nominal", "scale": {"domain": ["90 days", "28 days", "7 days"], "range": ["#1a1a1a", "#1f1fd6", "#e3262b"]}, "legend": null},
       "detail": {"field": "g"}}},
    {"transform": [{"filter": "isValid(datum.s) && datum.x == 4000"}], "mark": {"type": "text", "align": "left", "baseline": "middle", "dx": 15, "dy": 22, "fontSize": 26, "color": "#333"},
     "encoding": {"x": {"field": "x", "type": "quantitative"}, "y": {"field": "y", "type": "quantitative"}, "text": {"field": "s"}}},
    {"transform": [{"filter": "isValid(datum.lab) && indexof([1641, 1412, 874, 712], datum.x) < 0"}], "mark": {"type": "text", "angle": 270, "align": "left", "baseline": "alphabetic", "dx": 4, "dy": -3, "fontSize": 24, "color": "#333"},
     "encoding": {"x": {"field": "x", "type": "quantitative"}, "y": {"datum": 0}, "text": {"field": "lab"}}},
    {"transform": [{"filter": "isValid(datum.lab) && indexof([1641, 1412, 874], datum.x) >= 0"}], "mark": {"type": "text", "angle": 270, "align": "left", "baseline": "top", "dx": 4, "dy": 3, "fontSize": 24, "color": "#333"},
     "encoding": {"x": {"field": "x", "type": "quantitative"}, "y": {"datum": 0}, "text": {"field": "lab"}}},
    {"transform": [{"filter": "isValid(datum.lab) && datum.x == 712"}], "mark": {"type": "text", "angle": 270, "align": "left", "baseline": "alphabetic", "dx": 0, "dy": -3, "fontSize": 24, "color": "#333"},
     "encoding": {"x": {"field": "x", "type": "quantitative"}, "y": {"datum": 116}, "text": {"field": "lab"}}},
    {"transform": [{"filter": "isValid(datum.letter)"}], "mark": {"type": "text", "align": "left", "baseline": "alphabetic", "fontSize": 38, "color": "#222"},
     "encoding": {"x": {"datum": 3957}, "y": {"datum": 11}, "text": {"field": "letter"}}},
    {"transform": [{"filter": "isValid(datum.letter)"}], "mark": {"type": "text", "align": "center", "baseline": "middle", "fontSize": 36, "color": "#222"},
     "encoding": {"x": {"datum": 1920}, "y": {"datum": 143}, "text": {"field": "name"}}},
    {"transform": [{"filter": "isValid(datum.letter)"}], "mark": {"type": "text", "align": "center", "baseline": "middle", "fontSize": 24, "color": "#777", "text": "//"},
     "encoding": {"x": {"datum": 2600}, "y": {"datum": 0}}},
    {"transform": [{"filter": "isValid(datum.letter)"}], "mark": {"type": "text", "align": "center", "baseline": "middle", "fontSize": 24, "color": "#777", "text": "//"},
     "encoding": {"x": {"datum": 2600}, "y": {"datum": 389}}}
 ]},
{"width": 854, "height": 389, "transform": [{"filter": "datum.p == 'b'"}],
 "layer": [
    {"transform": [{"filter": "isValid(datum.lab)"}], "mark": {"type": "rule", "color": "#8c8c8c", "strokeWidth": 1.3, "strokeDash": [2, 2]}, "encoding": {"x": {"field": "x", "type": "quantitative"}}},
    {"transform": [{"filter": "isValid(datum.s)"}], "mark": {"type": "line", "strokeWidth": 2},
     "encoding": {
       "x": {"field": "x", "type": "quantitative", "scale": {"domain": [4000, 3200, 2000, 400], "range": [0, 278, 296, 854], "nice": false, "zero": false},
         "axis": {"title": "Wavenumber (cm⁻¹)", "titleFontSize": 28, "values": [4000, 3800, 3600, 3400, 2000, 1800, 1600, 1400, 1200, 1000, 800, 600, 400], "format": "d", "labelExpr": "datum.value % 400 == 0 ? datum.label : ''", "tickSize": {"condition": {"test": "datum.value % 400 == 0", "value": 11}, "value": 6}, "labelPadding": 5, "titlePadding": 13, "labelOverlap": false, "labelFlush": false}},
       "y": {"field": "y", "type": "quantitative", "scale": {"domain": [0, 389], "nice": false, "zero": false},
         "axis": {"title": "Transmitance (a. u.)", "titleFontSize": 27, "labels": false, "values": [0,16.2,32.4,48.6,64.8,81,97.2,113.4,129.6,145.8,162,178.2,194.4,210.6,226.8,243,259.2,275.4,291.6,307.8,324,340.2,356.4,372.6,388.8], "tickSize": {"condition": {"test": "round(datum.value/16.2) % 2 == 1", "value": 10}, "value": 5}, "titlePadding": 37}},
       "color": {"field": "s", "type": "nominal", "scale": {"domain": ["90 days", "28 days", "7 days"], "range": ["#1a1a1a", "#1f1fd6", "#e3262b"]}, "legend": null},
       "detail": {"field": "g"}}},
    {"transform": [{"filter": "isValid(datum.s) && datum.x == 4000"}], "mark": {"type": "text", "align": "left", "baseline": "middle", "dx": 15, "dy": 22, "fontSize": 26, "color": "#333"},
     "encoding": {"x": {"field": "x", "type": "quantitative"}, "y": {"field": "y", "type": "quantitative"}, "text": {"field": "s"}}},
    {"transform": [{"filter": "isValid(datum.lab) && indexof([1641, 1412, 874, 712], datum.x) < 0"}], "mark": {"type": "text", "angle": 270, "align": "left", "baseline": "alphabetic", "dx": 4, "dy": -3, "fontSize": 24, "color": "#333"},
     "encoding": {"x": {"field": "x", "type": "quantitative"}, "y": {"datum": 0}, "text": {"field": "lab"}}},
    {"transform": [{"filter": "isValid(datum.lab) && indexof([1641, 1412, 874], datum.x) >= 0"}], "mark": {"type": "text", "angle": 270, "align": "left", "baseline": "top", "dx": 4, "dy": 3, "fontSize": 24, "color": "#333"},
     "encoding": {"x": {"field": "x", "type": "quantitative"}, "y": {"datum": 0}, "text": {"field": "lab"}}},
    {"transform": [{"filter": "isValid(datum.lab) && datum.x == 712"}], "mark": {"type": "text", "angle": 270, "align": "left", "baseline": "alphabetic", "dx": 0, "dy": -3, "fontSize": 24, "color": "#333"},
     "encoding": {"x": {"field": "x", "type": "quantitative"}, "y": {"datum": 106}, "text": {"field": "lab"}}},
    {"transform": [{"filter": "isValid(datum.letter)"}], "mark": {"type": "text", "align": "left", "baseline": "alphabetic", "fontSize": 38, "color": "#222"},
     "encoding": {"x": {"datum": 3957}, "y": {"datum": 11}, "text": {"field": "letter"}}},
    {"transform": [{"filter": "isValid(datum.letter)"}], "mark": {"type": "text", "align": "center", "baseline": "middle", "fontSize": 36, "color": "#222"},
     "encoding": {"x": {"datum": 1880}, "y": {"datum": 143}, "text": {"field": "name"}}},
    {"transform": [{"filter": "isValid(datum.letter)"}], "mark": {"type": "text", "align": "center", "baseline": "middle", "fontSize": 24, "color": "#777", "text": "//"},
     "encoding": {"x": {"datum": 2600}, "y": {"datum": 0}}},
    {"transform": [{"filter": "isValid(datum.letter)"}], "mark": {"type": "text", "align": "center", "baseline": "middle", "fontSize": 24, "color": "#777", "text": "//"},
     "encoding": {"x": {"datum": 2600}, "y": {"datum": 389}}}
 ]},
{"width": 854, "height": 389, "transform": [{"filter": "datum.p == 'c'"}],
 "layer": [
    {"transform": [{"filter": "isValid(datum.lab)"}], "mark": {"type": "rule", "color": "#8c8c8c", "strokeWidth": 1.3, "strokeDash": [2, 2]}, "encoding": {"x": {"field": "x", "type": "quantitative"}}},
    {"transform": [{"filter": "isValid(datum.s)"}], "mark": {"type": "line", "strokeWidth": 2},
     "encoding": {
       "x": {"field": "x", "type": "quantitative", "scale": {"domain": [4000, 3200, 2000, 400], "range": [0, 278, 296, 854], "nice": false, "zero": false},
         "axis": {"title": "Wavenumber (cm⁻¹)", "titleFontSize": 28, "values": [4000, 3800, 3600, 3400, 2000, 1800, 1600, 1400, 1200, 1000, 800, 600, 400], "format": "d", "labelExpr": "datum.value % 400 == 0 ? datum.label : ''", "tickSize": {"condition": {"test": "datum.value % 400 == 0", "value": 11}, "value": 6}, "labelPadding": 5, "titlePadding": 13, "labelOverlap": false, "labelFlush": false}},
       "y": {"field": "y", "type": "quantitative", "scale": {"domain": [0, 389], "nice": false, "zero": false},
         "axis": {"title": "Transmitance (a. u.)", "titleFontSize": 27, "labels": false, "values": [0,16.2,32.4,48.6,64.8,81,97.2,113.4,129.6,145.8,162,178.2,194.4,210.6,226.8,243,259.2,275.4,291.6,307.8,324,340.2,356.4,372.6,388.8], "tickSize": {"condition": {"test": "round(datum.value/16.2) % 2 == 1", "value": 10}, "value": 5}, "titlePadding": 37}},
       "color": {"field": "s", "type": "nominal", "scale": {"domain": ["90 days", "28 days", "7 days"], "range": ["#1a1a1a", "#1f1fd6", "#e3262b"]}, "legend": null},
       "detail": {"field": "g"}}},
    {"transform": [{"filter": "isValid(datum.s) && datum.x == 4000"}], "mark": {"type": "text", "align": "left", "baseline": "middle", "dx": 15, "dy": 22, "fontSize": 26, "color": "#333"},
     "encoding": {"x": {"field": "x", "type": "quantitative"}, "y": {"field": "y", "type": "quantitative"}, "text": {"field": "s"}}},
    {"transform": [{"filter": "isValid(datum.lab) && indexof([1641, 1412, 874, 712], datum.x) < 0"}], "mark": {"type": "text", "angle": 270, "align": "left", "baseline": "alphabetic", "dx": 4, "dy": -3, "fontSize": 24, "color": "#333"},
     "encoding": {"x": {"field": "x", "type": "quantitative"}, "y": {"datum": 0}, "text": {"field": "lab"}}},
    {"transform": [{"filter": "isValid(datum.lab) && indexof([1641, 1412, 874], datum.x) >= 0"}], "mark": {"type": "text", "angle": 270, "align": "left", "baseline": "top", "dx": 4, "dy": 3, "fontSize": 24, "color": "#333"},
     "encoding": {"x": {"field": "x", "type": "quantitative"}, "y": {"datum": 0}, "text": {"field": "lab"}}},
    {"transform": [{"filter": "isValid(datum.lab) && datum.x == 712"}], "mark": {"type": "text", "angle": 270, "align": "left", "baseline": "alphabetic", "dx": 0, "dy": -3, "fontSize": 24, "color": "#333"},
     "encoding": {"x": {"field": "x", "type": "quantitative"}, "y": {"datum": 120}, "text": {"field": "lab"}}},
    {"transform": [{"filter": "isValid(datum.letter)"}], "mark": {"type": "text", "align": "left", "baseline": "alphabetic", "fontSize": 38, "color": "#222"},
     "encoding": {"x": {"datum": 3957}, "y": {"datum": 11}, "text": {"field": "letter"}}},
    {"transform": [{"filter": "isValid(datum.letter)"}], "mark": {"type": "text", "align": "center", "baseline": "middle", "fontSize": 36, "color": "#222"},
     "encoding": {"x": {"datum": 1920}, "y": {"datum": 148}, "text": {"field": "name"}}},
    {"transform": [{"filter": "isValid(datum.letter)"}], "mark": {"type": "text", "align": "center", "baseline": "middle", "fontSize": 24, "color": "#777", "text": "//"},
     "encoding": {"x": {"datum": 2600}, "y": {"datum": 0}}},
    {"transform": [{"filter": "isValid(datum.letter)"}], "mark": {"type": "text", "align": "center", "baseline": "middle", "fontSize": 24, "color": "#777", "text": "//"},
     "encoding": {"x": {"datum": 2600}, "y": {"datum": 389}}}
 ]},
{"width": 854, "height": 389, "transform": [{"filter": "datum.p == 'd'"}],
 "layer": [
    {"transform": [{"filter": "isValid(datum.lab)"}], "mark": {"type": "rule", "color": "#8c8c8c", "strokeWidth": 1.3, "strokeDash": [2, 2]}, "encoding": {"x": {"field": "x", "type": "quantitative"}}},
    {"transform": [{"filter": "isValid(datum.s)"}], "mark": {"type": "line", "strokeWidth": 2},
     "encoding": {
       "x": {"field": "x", "type": "quantitative", "scale": {"domain": [4000, 3200, 2000, 400], "range": [0, 278, 296, 854], "nice": false, "zero": false},
         "axis": {"title": "Wavenumber (cm⁻¹)", "titleFontSize": 28, "values": [4000, 3800, 3600, 3400, 2000, 1800, 1600, 1400, 1200, 1000, 800, 600, 400], "format": "d", "labelExpr": "datum.value % 400 == 0 ? datum.label : ''", "tickSize": {"condition": {"test": "datum.value % 400 == 0", "value": 11}, "value": 6}, "labelPadding": 5, "titlePadding": 13, "labelOverlap": false, "labelFlush": false}},
       "y": {"field": "y", "type": "quantitative", "scale": {"domain": [0, 389], "nice": false, "zero": false},
         "axis": {"title": "Transmitance (a. u.)", "titleFontSize": 27, "labels": false, "values": [0,16.2,32.4,48.6,64.8,81,97.2,113.4,129.6,145.8,162,178.2,194.4,210.6,226.8,243,259.2,275.4,291.6,307.8,324,340.2,356.4,372.6,388.8], "tickSize": {"condition": {"test": "round(datum.value/16.2) % 2 == 1", "value": 10}, "value": 5}, "titlePadding": 37}},
       "color": {"field": "s", "type": "nominal", "scale": {"domain": ["90 days", "28 days", "7 days"], "range": ["#1a1a1a", "#1f1fd6", "#e3262b"]}, "legend": null},
       "detail": {"field": "g"}}},
    {"transform": [{"filter": "isValid(datum.s) && datum.x == 4000"}], "mark": {"type": "text", "align": "left", "baseline": "middle", "dx": 15, "dy": 22, "fontSize": 26, "color": "#333"},
     "encoding": {"x": {"field": "x", "type": "quantitative"}, "y": {"field": "y", "type": "quantitative"}, "text": {"field": "s"}}},
    {"transform": [{"filter": "isValid(datum.lab) && indexof([1641, 1412, 874, 712], datum.x) < 0"}], "mark": {"type": "text", "angle": 270, "align": "left", "baseline": "alphabetic", "dx": 4, "dy": -3, "fontSize": 24, "color": "#333"},
     "encoding": {"x": {"field": "x", "type": "quantitative"}, "y": {"datum": 0}, "text": {"field": "lab"}}},
    {"transform": [{"filter": "isValid(datum.lab) && indexof([1641, 1412, 874], datum.x) >= 0"}], "mark": {"type": "text", "angle": 270, "align": "left", "baseline": "top", "dx": 4, "dy": 3, "fontSize": 24, "color": "#333"},
     "encoding": {"x": {"field": "x", "type": "quantitative"}, "y": {"datum": 0}, "text": {"field": "lab"}}},
    {"transform": [{"filter": "isValid(datum.lab) && datum.x == 712"}], "mark": {"type": "text", "angle": 270, "align": "left", "baseline": "alphabetic", "dx": 0, "dy": -3, "fontSize": 24, "color": "#333"},
     "encoding": {"x": {"field": "x", "type": "quantitative"}, "y": {"datum": 112}, "text": {"field": "lab"}}},
    {"transform": [{"filter": "isValid(datum.letter)"}], "mark": {"type": "text", "align": "left", "baseline": "alphabetic", "fontSize": 38, "color": "#222"},
     "encoding": {"x": {"datum": 3957}, "y": {"datum": 11}, "text": {"field": "letter"}}},
    {"transform": [{"filter": "isValid(datum.letter)"}], "mark": {"type": "text", "align": "center", "baseline": "middle", "fontSize": 36, "color": "#222"},
     "encoding": {"x": {"datum": 1920}, "y": {"datum": 148}, "text": {"field": "name"}}},
    {"transform": [{"filter": "isValid(datum.letter)"}], "mark": {"type": "text", "align": "center", "baseline": "middle", "fontSize": 24, "color": "#777", "text": "//"},
     "encoding": {"x": {"datum": 2600}, "y": {"datum": 0}}},
    {"transform": [{"filter": "isValid(datum.letter)"}], "mark": {"type": "text", "align": "center", "baseline": "middle", "fontSize": 24, "color": "#777", "text": "//"},
     "encoding": {"x": {"datum": 2600}, "y": {"datum": 389}}}
 ]}
],
"config": {
  "font": "Liberation Sans",
  "view": {"stroke": "#9b9b9b", "strokeWidth": 2.5},
  "text": {"font": "Liberation Sans"},
  "axis": {"domainColor": "#9b9b9b", "domainWidth": 2.5, "tickColor": "#8a8a8a", "tickWidth": 1.5, "grid": false,
           "labelFont": "Liberation Sans", "titleFont": "Liberation Sans", "labelFontSize": 26, "titleFontSize": 26,
           "labelColor": "#333", "titleColor": "#333", "titleFontWeight": "normal"}
}
}
